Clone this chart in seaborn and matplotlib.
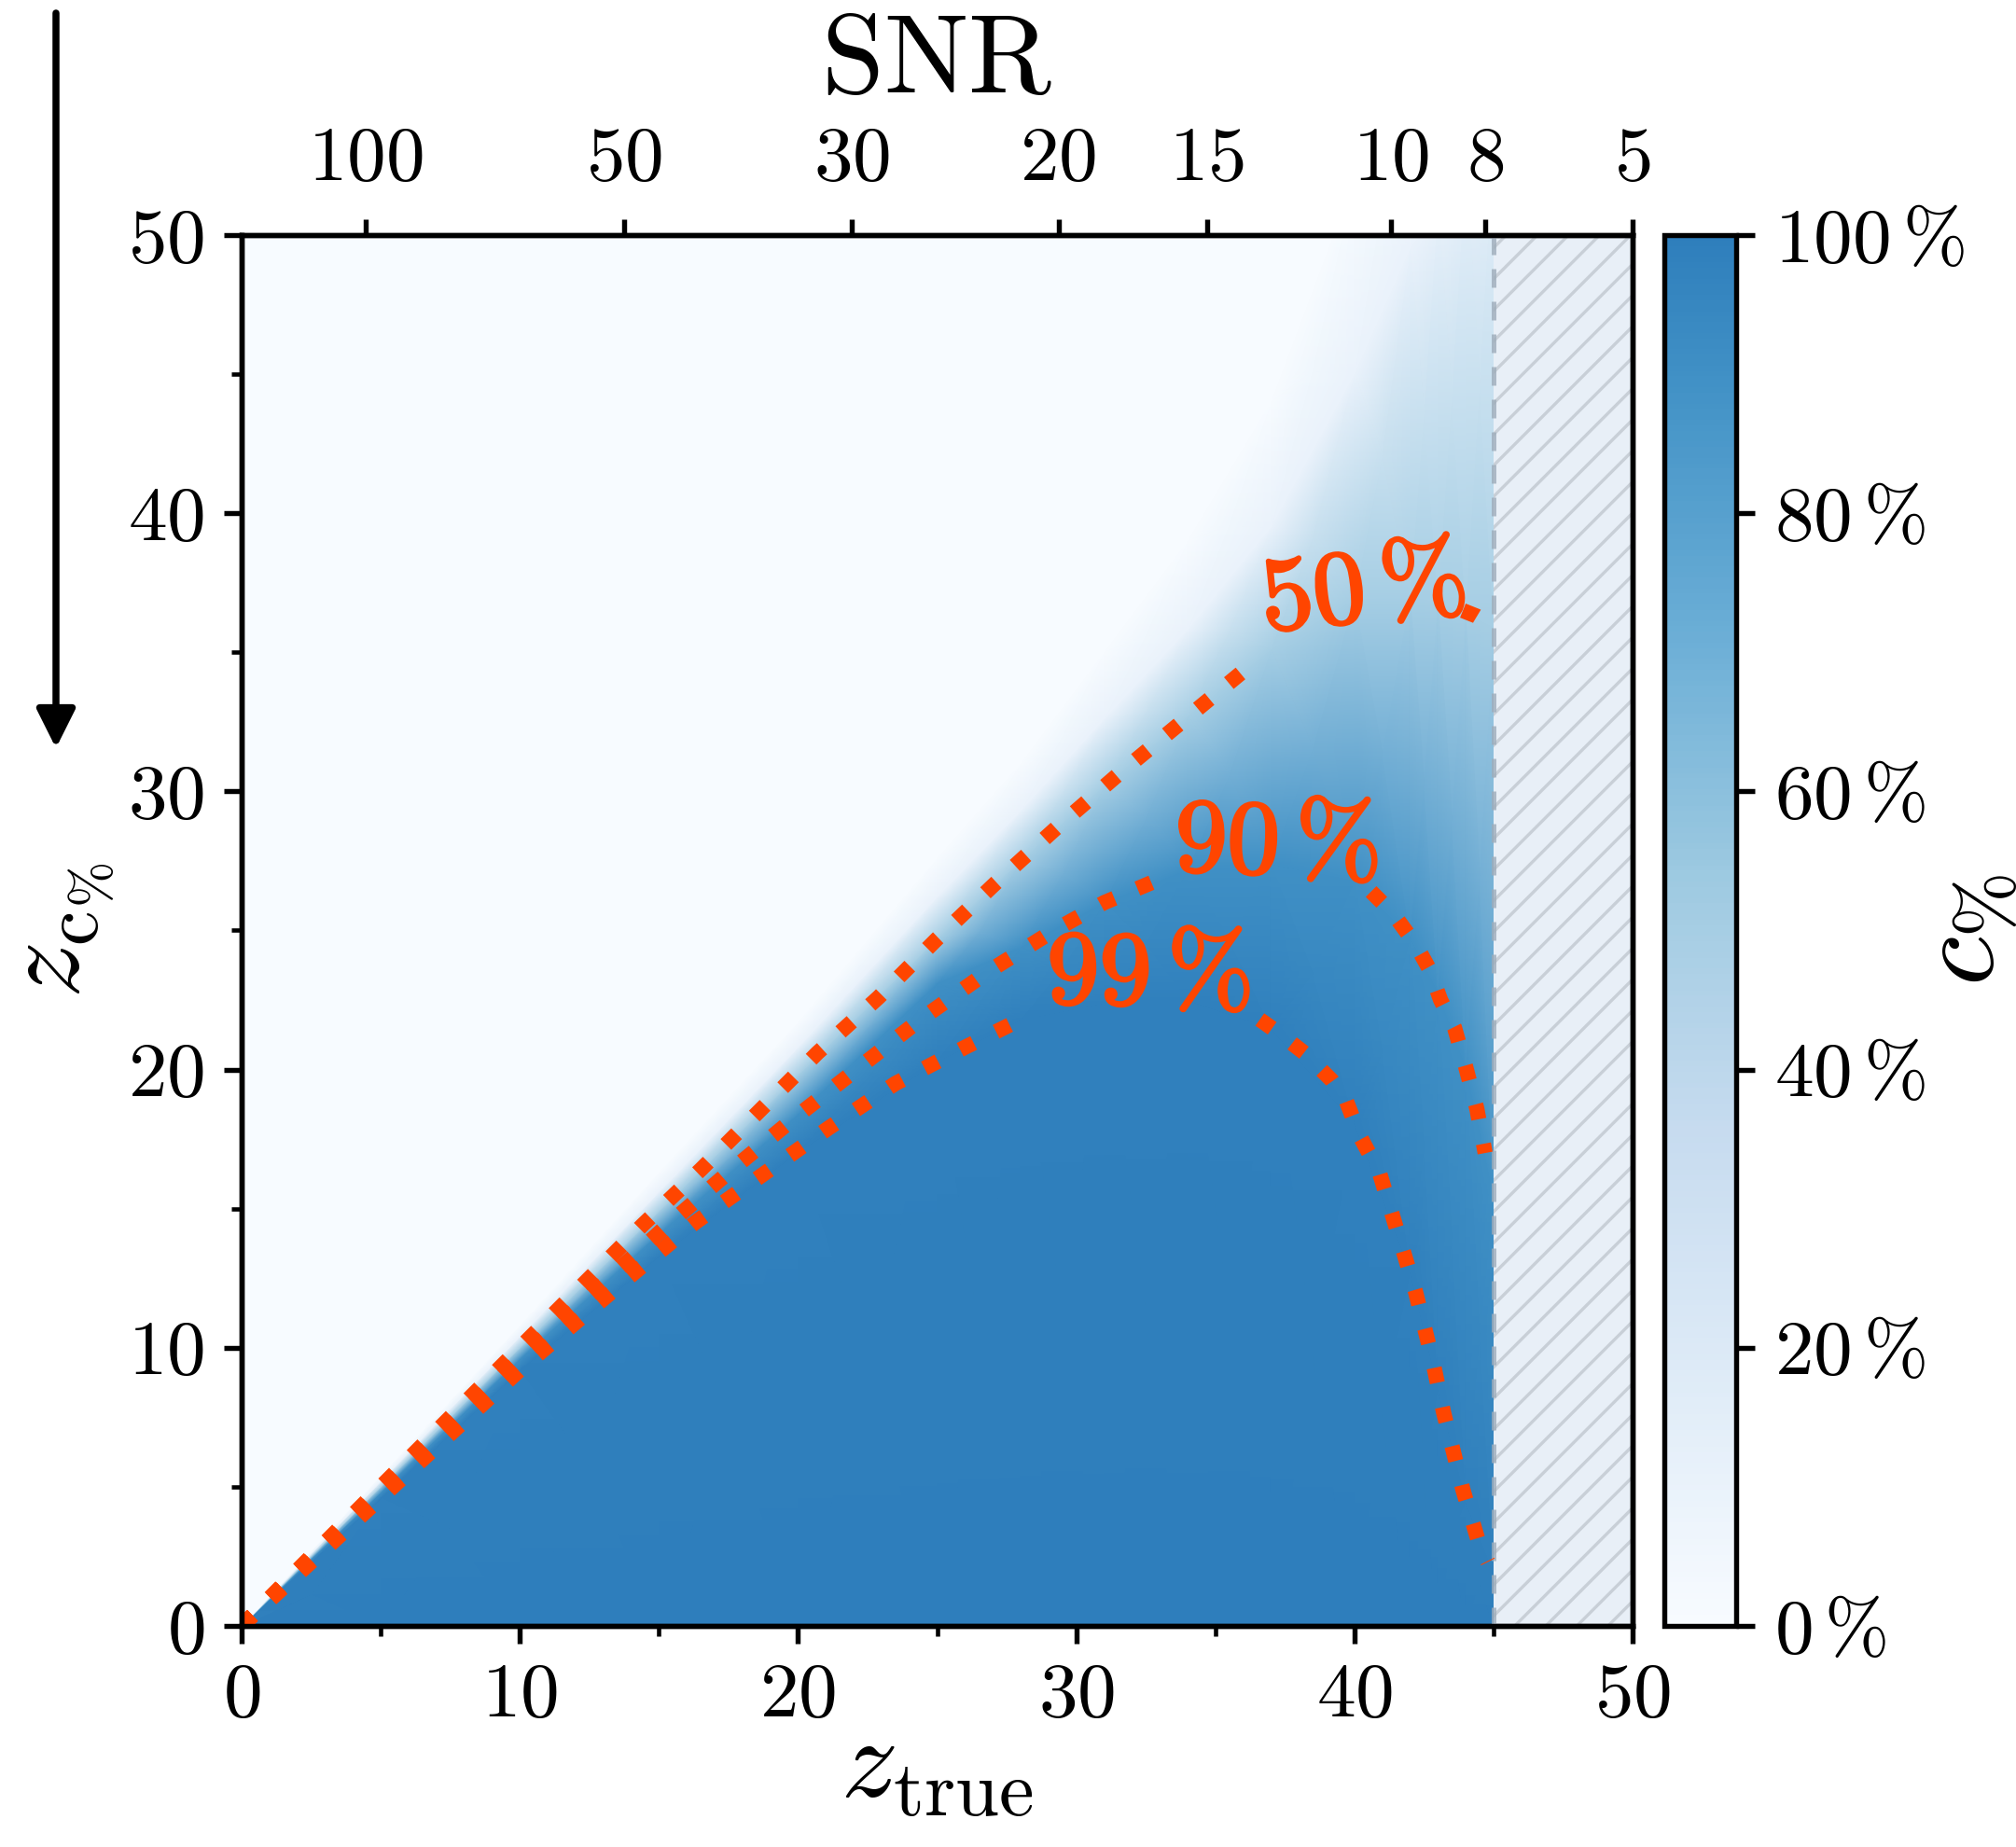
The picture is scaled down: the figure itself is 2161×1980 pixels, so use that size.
import numpy as np
import matplotlib
matplotlib.use("Agg")
import matplotlib.pyplot as plt
import matplotlib.patheffects as pe
import seaborn as sns
from matplotlib.colors import LinearSegmentedColormap
from matplotlib.patches import Rectangle
from matplotlib.ticker import MultipleLocator, NullLocator

# ---------------- data ----------------
# columns of z_true and the z_c% positions where c% reaches each level
zt_cols = [0, 5, 10, 15, 20, 25, 28, 31, 34, 37, 40, 42, 43, 44, 45]
lev99 = [0, 4.6, 9.2, 13.3, 17.05, 20.3, 21.8, 22.4, 22.5, 21.5, 18.1, 12.8, 8.6, 4.5, 1.9]
lev90 = [0, 4.8, 9.6, 14.1, 18.4, 23.1, 24.4, 26.0, 27.2, 27.4, 26.8, 24.8, 22.8, 20.1, 15.5]
lev50 = [0, 5.0, 10.0, 14.9, 19.8, 24.7, 27.5, 30.2, 32.7, 35.1, 36.9, 37.0, 36.8, 36.4, 35.9]
lev10 = [0, 5.2, 10.4, 15.6, 20.8, 26.2, 29.3, 32.6, 35.8, 39.5, 45.0, 49.5, 51.0, 52.5, 53.5]
lev0 = [0, 5.4, 10.8, 16.3, 21.7, 27.6, 31.0, 35.0, 39.0, 44.0, 52.0, 58.0, 62.0, 66.0, 70.0]
level_values = [100, 99, 90, 50, 10, 0, 0]

# contour lines (segments broken by the inline labels)
c50a_x = [0, 5, 10, 12.3, 14.4, 16.5, 18.6, 20.7, 22.9, 25.0, 27.1, 29.3, 31.5, 33.8, 36.1]
c50a_y = [0, 5.0, 10.0, 12.3, 14.4, 16.4, 18.5, 20.6, 22.6, 24.7, 26.7, 28.7, 30.6, 32.5, 34.4]
c50b_x = [43.9, 44.4, 44.9]
c50b_y = [36.5, 36.3, 36.0]

c90a_x = [0, 5, 10, 13.1, 15.3, 17.5, 19.8, 22.1, 24.4, 26.8, 29.2, 31.0, 32.9]
c90a_y = [0, 4.8, 9.6, 12.4, 14.4, 16.3, 18.2, 20.0, 21.8, 23.5, 25.0, 26.0, 26.8]
c90b_x = [40.6, 41.4, 42.2, 42.7, 43.1, 43.6, 44.0, 44.4, 44.7]
c90b_y = [26.4, 25.6, 24.5, 23.6, 22.5, 21.5, 20.1, 18.6, 17.0]

c99a_x = [0, 5, 10, 14.0, 16.3, 18.7, 21.1, 23.5, 26.0, 28.4]
c99a_y = [0, 4.6, 9.2, 12.6, 14.5, 16.2, 17.9, 19.5, 20.8, 22.0]
c99b_x = [36.6, 37.3, 38.2, 39.2, 39.7, 40.2, 40.9, 41.6, 42.2, 42.8, 43.2, 43.9, 44.5, 44.8]
c99b_y = [21.8, 21.3, 20.6, 19.6, 18.9, 17.6, 16.3, 14.0, 12.0, 9.6, 7.7, 4.9, 2.9, 2.3]

contour_labels = ["50", "90", "99"]
label_xy = [(40.3, 37.1), (37.2, 28.0), (32.6, 23.3)]
label_rot = [6, -2, -1]

axis_ticks = [0, 10, 20, 30, 40, 50]
snr_labels = ["100", "50", "30", "20", "15", "10", "8", "5"]
snr_pos = [4.45, 13.76, 21.92, 29.36, 34.7, 41.3, 44.7, 50.0]
cbar_ticks = [0, 20, 40, 60, 80, 100]
masked_from = 45

# ---------------- style ----------------
sns.set_style("ticks")
plt.rcParams.update({
    "font.family": "serif",
    "font.serif": ["cmr10", "DejaVu Serif"],
    "mathtext.fontset": "cm",
    "axes.unicode_minus": False,
    "axes.linewidth": 1.3,
    "xtick.major.width": 1.3, "ytick.major.width": 1.3,
    "xtick.minor.width": 1.1, "ytick.minor.width": 1.1,
    "xtick.major.size": 4.5, "ytick.major.size": 4.5,
    "xtick.minor.size": 2.6, "ytick.minor.size": 2.6,
    "xtick.direction": "out", "ytick.direction": "out",
    "xtick.color": "black", "ytick.color": "black",
    "xtick.labelcolor": "black", "ytick.labelcolor": "black",
    "text.color": "black", "axes.labelcolor": "black",
    "axes.edgecolor": "black",
    "hatch.linewidth": 0.8,
})

W, H = 2161, 1980
fig = plt.figure(figsize=(W / 300, H / 300), dpi=300)
ax = fig.add_axes([259 / W, 1 - 1743 / H, (1750 - 259) / W, (1743 - 252) / H])
cax = fig.add_axes([1784 / W, 1 - 1743 / H, (1861 - 1784) / W, (1743 - 252) / H])

blues = sns.color_palette("Blues", as_cmap=True)
cmap = LinearSegmentedColormap.from_list("blues_trunc", blues(np.linspace(0, 0.7, 256)))

# field mesh built from the read level positions
xs = np.array(zt_cols, dtype=float)
l0 = np.array(lev0, dtype=float)
Y = np.vstack([np.zeros_like(xs), lev99, lev90, lev50, lev10, l0, np.maximum(60.0, l0 + 6)])
X = np.tile(xs, (Y.shape[0], 1))
C = np.array(level_values, dtype=float)[:, None] * np.ones_like(xs)[None, :]
mesh = ax.pcolormesh(X, Y, C, shading="gouraud", cmap=cmap, vmin=0, vmax=100, zorder=1)

# masked / hatched region
ax.add_patch(Rectangle((masked_from, 0), 50 - masked_from, 50, facecolor="#e8eff7",
                       edgecolor="#c8cfd7", hatch="///", lw=0, zorder=2))
ax.axvline(masked_from, color="#9eacba", lw=1.2, ls=(0, (4, 3)), alpha=0.8, zorder=3)

orange = "#ff4500"
for xx, yy in [(c50a_x, c50a_y), (c50b_x, c50b_y), (c90a_x, c90a_y), (c90b_x, c90b_y),
               (c99a_x, c99a_y), (c99b_x, c99b_y)]:
    sns.lineplot(x=xx, y=yy, sort=False, estimator=None, ax=ax, color=orange,
                 lw=3.9, linestyle=":", legend=False, zorder=4)

for lab, (lx, ly), rot in zip(contour_labels, label_xy, label_rot):
    ax.text(lx, ly, r"$\mathbf{" + lab + r"\,\%}$", color=orange, fontsize=27,
            ha="center", va="center", rotation=rot, rotation_mode="anchor", zorder=5,
            path_effects=[pe.withStroke(linewidth=0.8, foreground=orange)])

ax.set_xlim(0, 50)
ax.set_ylim(0, 50)
ax.set_xticks(axis_ticks)
ax.set_yticks(axis_ticks)
ax.set_xticklabels([f"${t}$" for t in axis_ticks], fontsize=20)
ax.set_yticklabels([f"${t}$" for t in axis_ticks], fontsize=20)
ax.xaxis.set_minor_locator(MultipleLocator(5))
ax.yaxis.set_minor_locator(MultipleLocator(5))
ax.tick_params(axis="both", which="major", pad=5)
ax.set_xlabel(r"$z_{\mathrm{true}}$", fontsize=29, labelpad=-3)
ax.set_ylabel(r"$z_{\mathrm{c}_{\%}}$", fontsize=29, labelpad=3)

axt = ax.twiny()
axt.set_xlim(0, 50)
axt.set_xticks(snr_pos)
axt.set_xticklabels([f"${s}$" for s in snr_labels], fontsize=20)
axt.tick_params(axis="x", which="major", length=4.2, width=1.3, pad=6)
axt.xaxis.set_minor_locator(NullLocator())
axt.set_xlabel(r"$\mathrm{SNR}$", fontsize=29, labelpad=9)

cb = fig.colorbar(mesh, cax=cax)
cb.set_ticks(cbar_ticks)
cb.set_ticklabels([rf"${t}\,\%$" for t in cbar_ticks])
cb.ax.tick_params(labelsize=20, length=4.8, width=1.3, pad=5)
cb.ax.minorticks_off()
cb.outline.set_linewidth(1.3)
cb.ax.set_ylabel("")
# colorbar label placed explicitly so that it stays inside the canvas
fig.text(2112 / W, 1 - 997 / H, r"$c_{\%}$", fontsize=29, rotation=90,
         ha="center", va="center")

ax.annotate("", xy=(60 / W, 1 - 802 / H), xytext=(60 / W, 1 - 14 / H),
            xycoords="figure fraction", textcoords="figure fraction",
            arrowprops=dict(arrowstyle="-|>,head_length=0.4,head_width=0.2", lw=1.8,
                            color="black", mutation_scale=21, shrinkA=0, shrinkB=0))

fig.savefig("out.png", dpi=300)
